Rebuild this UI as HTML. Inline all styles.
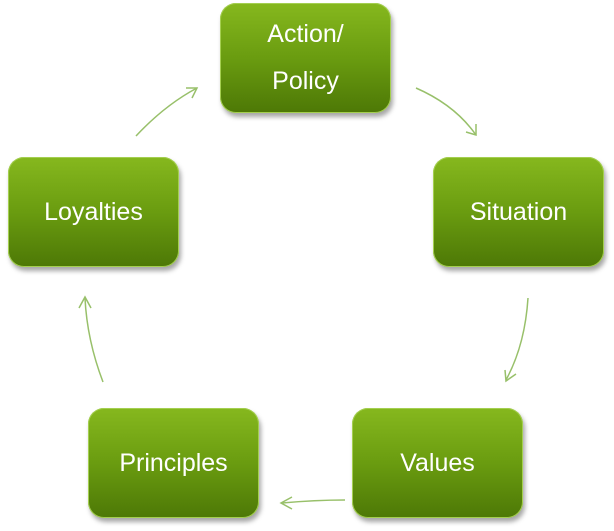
<!DOCTYPE html>
<html><head><style>
body{margin:0;width:614px;height:531px;background:#fff;position:relative;overflow:hidden;font-family:"Liberation Sans",sans-serif}
.b{position:absolute;width:171px;height:110px;border-radius:16px;background:linear-gradient(#86b81e,#6a9c10 50%,#4d7806);box-shadow:2px 4px 5px rgba(0,0,0,.35),inset 0 0 0 1px #a4cf50;color:#fff;font-size:25px;display:flex;align-items:center;justify-content:center;text-align:center;line-height:47px}
</style></head><body>
<svg width="614" height="531" style="position:absolute;left:0;top:0" fill="none" stroke="#98c06a" stroke-width="1.5">
<path d="M416 88 Q455 105 476 135"/><path d="M466 132 L476 135 L476 124"/>
<path d="M528 298 Q525 345 506 380"/><path d="M505 370 L506 381 L516 374"/>
<path d="M345 500 Q315 500 282 503"/><path d="M292 497 L281 503 L292 509"/>
<path d="M103 382 Q87 340 85 298"/><path d="M79 308 L85 297 L91 308"/>
<path d="M136 136 Q165 105 197 88"/><path d="M186 88 L197 88 L192 98"/>
</svg>
<div class="b" style="left:220px;top:3px">Action/<br>Policy</div>
<div class="b" style="left:433px;top:157px">Situation</div>
<div class="b" style="left:352px;top:408px">Values</div>
<div class="b" style="left:88px;top:408px">Principles</div>
<div class="b" style="left:8px;top:157px">Loyalties</div>
</body></html>
